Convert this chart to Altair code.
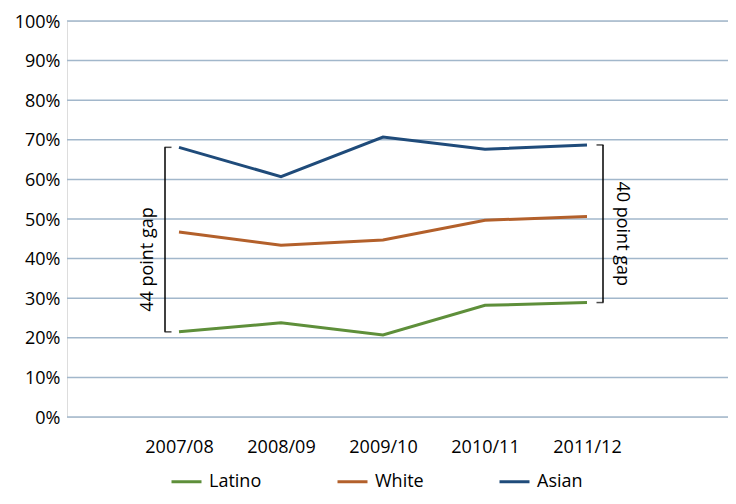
import altair as alt
import pandas as pd

years = ["2007/08", "2008/09", "2009/10", "2010/11", "2011/12"]
latino = [0.215, 0.238, 0.207, 0.282, 0.289]
white = [0.467, 0.434, 0.447, 0.497, 0.506]
asian = [0.681, 0.607, 0.707, 0.676, 0.687]
groups = ["Latino", "White", "Asian"]
colors = ["#5e8f3a", "#b3602b", "#1f4b7a"]
y_ticks = [0, 0.1, 0.2, 0.3, 0.4, 0.5, 0.6, 0.7, 0.8, 0.9, 1.0]
gap_labels = ["44 point gap", "40 point gap"]

FONT = "Open Sans"
FS = 18

rows = []
for g, vals in zip(groups, [latino, white, asian]):
    for yr, v in zip(years, vals):
        rows.append({"year": yr, "group": g, "value": v})
df = pd.DataFrame(rows)

xscale = alt.Scale(type="point", domain=years, range=[112, 520], padding=0)
yscale = alt.Scale(domain=[0, 1])
xaxis = alt.Axis(title=None, domain=False, ticks=False, grid=False,
                 labelPadding=21, labelFont=FONT, labelFontSize=FS,
                 labelColor="#000000", labelAngle=0)
yaxis = alt.Axis(title=None, domain=False, ticks=False, grid=False, values=y_ticks,
                 format=".0%", labelPadding=7, labelFont=FONT, labelOverlap=False,
                 labelOffset=1, labelFontSize=FS, labelColor="#000000")

grid = alt.Chart(pd.DataFrame({"t": y_ticks})).mark_rule(
    color="#a2b7cb", strokeWidth=1.5).encode(
    y=alt.Y("t:Q", scale=yscale, axis=yaxis))

lines = alt.Chart(df).mark_line(strokeWidth=3).encode(
    x=alt.X("year:N", scale=xscale, sort=years, axis=xaxis),
    y=alt.Y("value:Q", scale=yscale, axis=yaxis),
    color=alt.Color("group:N",
                    scale=alt.Scale(domain=groups, range=colors),
                    legend=alt.Legend(title=None, orient="none", direction="horizontal",
                                      legendX=103, legendY=444,
                                      symbolType="stroke", symbolSize=900,
                                      symbolStrokeWidth=3, labelOffset=6,
                                      columnPadding=69, labelFont=FONT,
                                      labelFontSize=FS, labelColor="#000000")),
)


def bracket(i, side):
    yr = years[i]
    top = asian[i]
    bot = latino[i]
    d = pd.DataFrame({"year": [yr], "top": [top], "bot": [bot],
                      "mid": [(top + bot) / 2], "label": [gap_labels[0 if side == "left" else 1]]})
    d_ends = pd.DataFrame({"year": [yr, yr], "v": [top, bot]})
    off = -14 if side == "left" else 16
    tick_off = off + 3 if side == "left" else off - 3
    rule = alt.Chart(d).mark_rule(color="#000000", strokeWidth=1.5, xOffset=off).encode(
        x=alt.X("year:N", scale=xscale, axis=xaxis),
        y=alt.Y("top:Q", scale=yscale, axis=yaxis), y2="bot:Q")
    ticks = alt.Chart(d_ends).mark_tick(color="#000000", orient="horizontal", size=7,
                                        thickness=1.5, xOffset=tick_off).encode(
        x=alt.X("year:N", scale=xscale, axis=xaxis),
        y=alt.Y("v:Q", scale=yscale, axis=yaxis))
    if side == "left":
        txt = alt.Chart(d).mark_text(font=FONT, fontSize=FS, angle=270, align="center",
                                     baseline="middle", xOffset=-31, yOffset=20,
                                     color="#000000")
    else:
        txt = alt.Chart(d).mark_text(font=FONT, fontSize=FS, angle=90, align="center",
                                     baseline="middle", xOffset=35, yOffset=10,
                                     color="#000000")
    txt = txt.encode(x=alt.X("year:N", scale=xscale, axis=xaxis),
                     y=alt.Y("mid:Q", scale=yscale, axis=yaxis),
                     text="label:N")
    return rule + ticks + txt


chart = alt.layer(grid, lines, bracket(0, "left"), bracket(len(years) - 1, "right")).properties(
    width=661, height=396,
    autosize=alt.AutoSizeParams(type="none"),
    padding={"left": 59, "top": 13, "right": 0, "bottom": 79},
).configure_view(stroke=None).configure(background="#ffffff")

chart.save("out.html", embed_options={"renderer": "svg", "actions": False})
